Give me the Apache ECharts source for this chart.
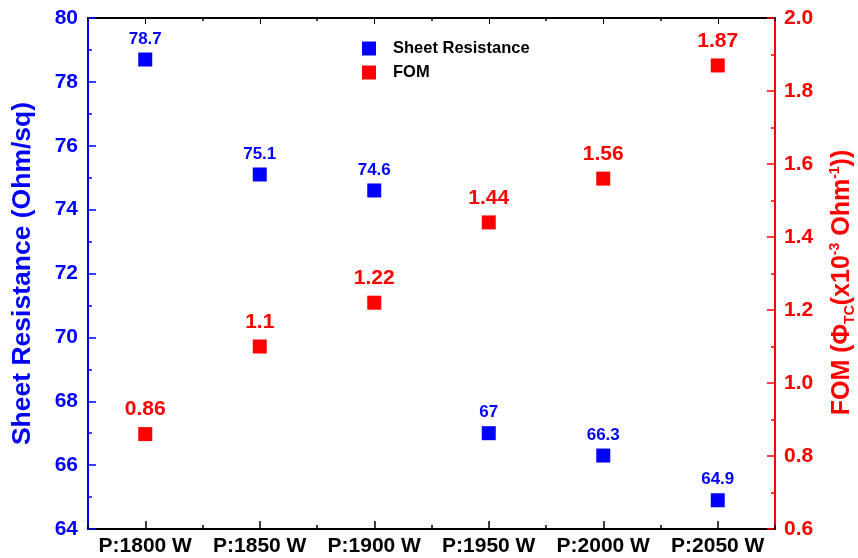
<!DOCTYPE html>
<html>
<head>
<meta charset="utf-8">
<script src="https://cdn.jsdelivr.net/npm/echarts@6/dist/echarts.min.js"></script>
<style>
  html, body { margin: 0; padding: 0; background: #fff; }
  #chart { width: 858px; height: 558px; }
</style>
</head>
<body>
<div id="chart"></div>
<script>
// data
const categories = ['P:1800 W', 'P:1850 W', 'P:1900 W', 'P:1950 W', 'P:2000 W', 'P:2050 W']
const sheetResistance = [78.7, 75.1, 74.6, 67, 66.3, 64.9]
const fom = [0.86, 1.1, 1.22, 1.44, 1.56, 1.87]

const FONT = 'Liberation Sans, Arial, sans-serif'
const BLUE = '#0000ff'
const RED = '#ff0000'

const chart = echarts.init(document.getElementById('chart'))

// extra category axes only to draw the small ticks between categories
const minorCat = (pos, len) => ({
  type: 'category',
  data: categories,
  position: pos,
  boundaryGap: true,
  axisLine: { show: false },
  axisLabel: { show: false },
  axisTick: { show: true, interval: 0, inside: true, length: len, lineStyle: { color: '#000', width: 1.5 } },
  splitLine: { show: false }
})

chart.setOption({
  animation: false,
  textStyle: { fontFamily: FONT },
  grid: { left: 88, right: 83, top: 18, bottom: 29, outerBoundsMode: 'none' },
  legend: {
    orient: 'vertical',
    left: 357,
    top: 35,
    itemWidth: 14,
    itemHeight: 14,
    itemGap: 7,
    icon: 'rect',
    textStyle: { fontFamily: FONT, fontWeight: 'bold', fontSize: 16.5, color: '#000', padding: [0, 0, 0, 12] },
    data: ['Sheet Resistance', 'FOM']
  },
  xAxis: [
    {
      type: 'category',
      data: categories,
      position: 'bottom',
      boundaryGap: true,
      axisLine: { lineStyle: { color: '#000', width: 2 } },
      axisTick: { show: true, interval: 0, inside: true, alignWithLabel: true, length: 8, lineStyle: { color: '#000', width: 1.5 } },
      axisLabel: { interval: 0, color: '#000', fontWeight: 'bold', fontSize: 21, margin: 7, fontFamily: FONT }
    },
    {
      type: 'category',
      data: categories,
      position: 'top',
      boundaryGap: true,
      axisLine: { lineStyle: { color: '#000', width: 2 } },
      axisTick: { show: true, interval: 0, inside: true, alignWithLabel: true, length: 6, lineStyle: { color: '#000', width: 1 } },
      axisLabel: { show: false }
    },
    minorCat('bottom', 4),
    minorCat('top', 3)
  ],
  yAxis: [
    {
      type: 'value',
      min: 64,
      max: 80,
      interval: 2,
      position: 'left',
      name: 'Sheet Resistance (Ohm/sq)',
      nameLocation: 'middle',
      nameGap: 52,
      nameTextStyle: { color: BLUE, fontWeight: 'bold', fontSize: 26.5, fontFamily: FONT },
      axisLine: { show: true, lineStyle: { color: BLUE, width: 2 } },
      axisTick: { show: true, inside: true, length: 8, lineStyle: { color: BLUE, width: 1.5 } },
      minorTick: { show: true, splitNumber: 2, length: 4, lineStyle: { color: BLUE, width: 1.5 } },
      axisLabel: { color: BLUE, fontWeight: 'bold', fontSize: 21, margin: 10, fontFamily: FONT },
      splitLine: { show: false }
    },
    {
      type: 'value',
      min: 0.6,
      max: 2.0,
      interval: 0.2,
      position: 'right',
      name: '{a|FOM (Φ}{s|TC}{a|(x10}{p|-3}{a| Ohm}{p|-1}{a|))}',
      nameLocation: 'middle',
      nameRotate: 90,
      nameGap: 52,
      nameTextStyle: {
        color: RED,
        fontWeight: 'bold',
        fontSize: 25,
        fontFamily: FONT,
        padding: [0, 18, 0, 0],
        rich: {
          a: { color: RED, fontWeight: 'bold', fontSize: 25, fontFamily: FONT, lineHeight: 30 },
          s: { color: RED, fontWeight: 'bold', fontSize: 14, fontFamily: FONT, padding: [16, 0, 0, 0] },
          p: { color: RED, fontWeight: 'bold', fontSize: 14, fontFamily: FONT, padding: [0, 0, 14, 0] }
        }
      },
      axisLine: { show: true, lineStyle: { color: RED, width: 2 } },
      axisTick: { show: true, inside: true, length: 8, lineStyle: { color: RED, width: 1.5 } },
      minorTick: { show: true, splitNumber: 2, length: 4, lineStyle: { color: RED, width: 1.5 } },
      axisLabel: {
        color: RED, fontWeight: 'bold', fontSize: 21, margin: 9, fontFamily: FONT,
        formatter: v => v.toFixed(1)
      },
      splitLine: { show: false }
    }
  ],
  series: [
    {
      name: 'Sheet Resistance',
      type: 'scatter',
      xAxisIndex: 0,
      yAxisIndex: 0,
      data: sheetResistance,
      symbol: 'rect',
      symbolSize: 14,
      itemStyle: { color: BLUE, opacity: 1 },
      label: {
        show: true,
        position: 'top',
        distance: 5,
        color: BLUE,
        fontWeight: 'bold',
        fontSize: 17,
        fontFamily: FONT
      }
    },
    {
      name: 'FOM',
      type: 'scatter',
      xAxisIndex: 0,
      yAxisIndex: 1,
      data: fom,
      symbol: 'rect',
      symbolSize: 14,
      itemStyle: { color: RED, opacity: 1 },
      label: {
        show: true,
        position: 'top',
        distance: 7,
        color: RED,
        fontWeight: 'bold',
        fontSize: 21,
        fontFamily: FONT
      }
    }
  ]
})
</script>
</body>
</html>
